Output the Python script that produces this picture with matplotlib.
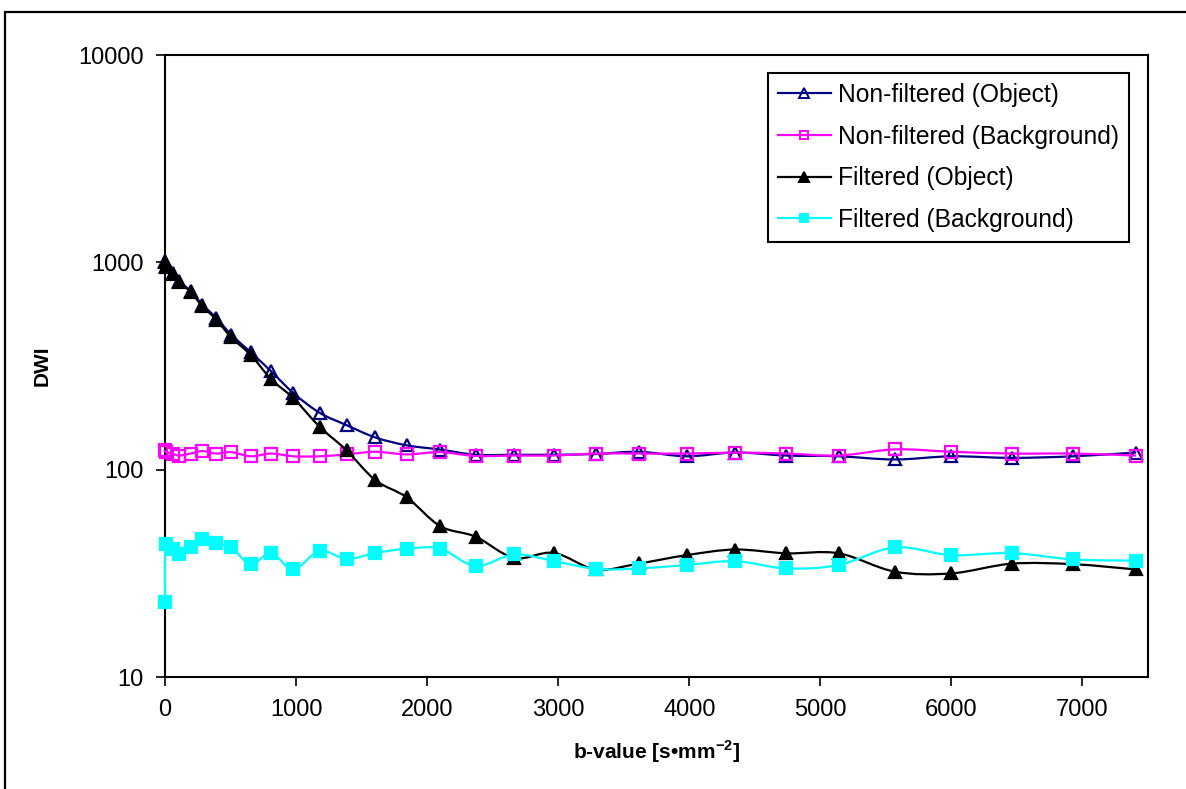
import numpy as np
import matplotlib
matplotlib.use("Agg")
import matplotlib.pyplot as plt
from matplotlib.path import Path
from matplotlib.patches import PathPatch, Rectangle
from matplotlib.lines import Line2D
from matplotlib.ticker import NullLocator

# ---------------- data ----------------
b_values = [0, 5, 60, 110, 195, 285, 390, 505, 655, 810, 980, 1180, 1385, 1605,
            1845, 2100, 2370, 2665, 2965, 3290, 3620, 3980, 4350, 4740, 5140,
            5570, 6000, 6460, 6930, 7410]

nonfiltered_object = [1010, 955, 885, 810, 725, 625, 540, 448, 368, 298, 234, 188,
                      164, 143, 131, 125, 118, 118, 118, 119, 122, 116, 121, 117,
                      116, 112, 116, 114, 116, 121]

nonfiltered_background = [124, 121.5, 119, 117, 119.6, 123, 119.6, 121.5, 116, 119.6,
                          116, 116, 118.5, 122, 118.5, 121.5, 116.4, 117, 117, 119.6,
                          119.6, 119.6, 120.8, 119.6, 117, 125.3, 122, 119.6, 119.6, 117]

filtered_object = [1000, 950, 880, 805, 720, 615, 530, 435, 357, 273, 221, 161,
                   124, 89, 73.5, 53.4, 47.5, 37.5, 39.7, 33, 35.3, 38.7, 41.2, 39.5,
                   39.5, 32.2, 31.6, 35.2, 35, 33]

filtered_background = [23, 43.6, 41.5, 39.2, 42.6, 46.3, 44.1, 42.2, 35.0, 39.6, 33.0,
                       40.6, 37.1, 39.6, 41.6, 41.6, 34.3, 39.0, 36.3, 33.2, 33.4, 34.7,
                       36.2, 33.4, 34.7, 42.2, 38.7, 39.6, 36.9, 36.4]

series_labels = ["Non-filtered (Object)", "Non-filtered (Background)",
                 "Filtered (Object)", "Filtered (Background)"]
x_ticks = [0, 1000, 2000, 3000, 4000, 5000, 6000, 7000]
y_ticks = [10, 100, 1000, 10000]

# ---------------- style ----------------
plt.rcParams["font.family"] = ["Liberation Sans", "DejaVu Sans"]
plt.rcParams["mathtext.fontset"] = "custom"
plt.rcParams["mathtext.rm"] = "Liberation Sans"
plt.rcParams["mathtext.bf"] = "Liberation Sans:bold"

W, H = 1186, 789
fig = plt.figure(figsize=(W / 100, H / 100), dpi=100)
fig.patch.set_facecolor("white")
ax = fig.add_axes([165 / W, 1 - 677 / H, (1148 - 165) / W, (677 - 55) / H])


def smooth_path(x, y):
    """Excel-like smoothed line (Catmull-Rom Bezier in x / log10(y) space)."""
    P = np.column_stack([np.asarray(x, float), np.log10(np.asarray(y, float))])
    n = len(P)
    verts = [P[0]]
    codes = [Path.MOVETO]
    for i in range(n - 1):
        p0 = P[i - 1] if i > 0 else P[i]
        p1 = P[i]
        p2 = P[i + 1]
        p3 = P[i + 2] if i + 2 < n else P[i + 1]
        c1 = p1 + (p2 - p0) / 6.0
        c2 = p2 - (p3 - p1) / 6.0
        verts += [c1, c2, p2]
        codes += [Path.CURVE4] * 3
    V = np.array(verts)
    V[:, 1] = 10 ** V[:, 1]
    return Path(V, codes)


series = [
    (nonfiltered_object, "#000080", "^", "none", 9),
    (nonfiltered_background, "#FF00FF", "s", "none", 8),
    (filtered_object, "#000000", "^", "#000000", 9),
    (filtered_background, "#00FFFF", "s", "#00FFFF", 8),
]

ax.set_yscale("log")
ax.set_xlim(0, 7500)
ax.set_ylim(10, 10000)

handles = []
for k, (vals, col, mk, mfc, ms) in enumerate(series):
    z = 3 + k
    patch = PathPatch(smooth_path(b_values, vals), facecolor="none", edgecolor=col,
                      lw=1.6, zorder=z, transform=ax.transData, clip_on=False)
    ax.add_patch(patch)
    ax.plot(b_values, vals, linestyle="none", marker=mk, markersize=ms,
            markerfacecolor=mfc, markeredgecolor=col, markeredgewidth=1.6,
            zorder=z + 0.5, clip_on=False)
    handles.append(Line2D([], [], color=col, lw=1.6, marker=mk, markersize=ms * 0.8,
                          markerfacecolor=mfc, markeredgecolor=col, markeredgewidth=1.4))

ax.set_xticks(x_ticks, labels=[str(v) for v in x_ticks])
ax.set_yticks(y_ticks, labels=[str(v) for v in y_ticks])
ax.yaxis.set_minor_locator(NullLocator())
ax.xaxis.set_minor_locator(NullLocator())
ax.tick_params(axis="both", direction="out", length=6.5, width=1.2, colors="black",
               labelsize=17)
ax.tick_params(axis="x", pad=9)
ax.tick_params(axis="y", pad=9)
for sp in ax.spines.values():
    sp.set_linewidth(1.5)
    sp.set_color("black")

ax.set_xlabel("b-value [s\u2022mm$^{\\mathbf{-2}}$]", fontsize=15, fontweight="bold",
              va="center")
ax.xaxis.set_label_coords(0.5, (677 - 752) / (677 - 55))
ax.set_ylabel("DWI", fontsize=15, fontweight="bold", va="center")
ax.yaxis.set_label_coords((42 - 165) / (1148 - 165), 0.5)

leg = ax.legend(handles, series_labels, loc="upper right",
                bbox_to_anchor=(1129 / W, 1 - 73 / H), bbox_transform=fig.transFigure,
                frameon=True, fancybox=False, edgecolor="black", framealpha=1,
                borderpad=0.4, labelspacing=0.72, handlelength=2.15,
                handletextpad=0.3, borderaxespad=0, fontsize=17.7, numpoints=1)
leg.get_frame().set_linewidth(1.5)
leg.set_zorder(20)

# outer chart frame
fig.add_artist(Rectangle((5 / W, -0.1), 2, (1 - 12 / H) + 0.1, transform=fig.transFigure,
                         fill=False, lw=1.6, edgecolor="black", clip_on=False))

fig.savefig("out.png", dpi=100, facecolor="white")
